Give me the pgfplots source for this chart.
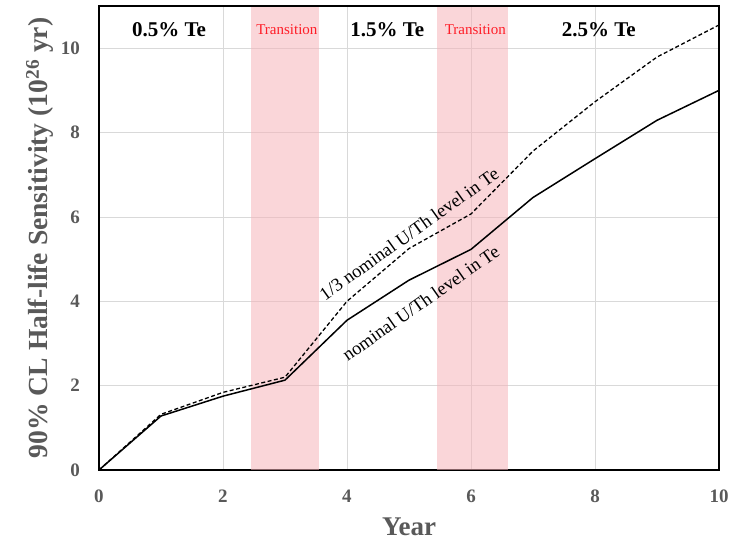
\documentclass[border=0pt]{standalone}
\usepackage{fontspec}
\setmainfont{Liberation Serif}
\usepackage{pgfplots}
\pgfplotsset{compat=1.18}
\definecolor{bandc}{RGB}{245,180,186}
\definecolor{tickgray}{RGB}{89,89,89}
\definecolor{gridgray}{RGB}{217,217,217}
\definecolor{transred}{RGB}{255,30,40}
\begin{document}
\begin{tikzpicture}[x=1pt,y=1pt]
\path (-99,-70) rectangle (649,470);
\begin{axis}[
 at={(0,0)}, anchor=south west,
 scale only axis, width=620pt, height=464pt,
 xmin=0, xmax=10, ymin=0, ymax=11,
 xtick={0,2,...,10}, ytick={0,2,...,10},
 grid=major, major grid style={gridgray, line width=0.7pt},
 tick style={draw=none},
 axis line style={black, line width=1.3pt},
 /pgf/number format/assume math mode=true,
 ticklabel style={font=\fontsize{19}{22}\selectfont\bfseries, text=tickgray},
 yticklabel style={anchor=east, inner sep=0pt, xshift=-19pt},
 xticklabel style={anchor=north, inner sep=0pt, yshift=-20pt},
 xlabel={Year},
 ylabel={90\% CL Half-life Sensitivity (10\textsuperscript{26} yr)},
 label style={font=\bfseries, text=tickgray, inner sep=0pt},
 xlabel style={font=\fontsize{27}{30}\selectfont\bfseries, at={(axis description cs:0.5,0)}, anchor=center, yshift=-57pt},
 ylabel style={font=\fontsize{27.6}{30}\selectfont\bfseries, at={(axis description cs:0,0.5)}, anchor=center, yshift=59pt},
 clip=false,
]
\addplot[draw=none, fill=bandc, fill opacity=0.55] coordinates {(2.45,0) (3.55,0) (3.55,11) (2.45,11)} -- cycle;
\addplot[draw=none, fill=bandc, fill opacity=0.55] coordinates {(5.45,0) (6.6,0) (6.6,11) (5.45,11)} -- cycle;
\addplot[black, line width=1.3pt, dash pattern=on 4pt off 2.5pt] coordinates {
(0,0) (1,1.32) (2,1.84) (3,2.2) (4,4.0) (5,5.25) (6,6.07) (7,7.56) (8,8.73) (9,9.79) (10,10.55)};
\addplot[black, line width=1.5pt] coordinates {
(0,0) (1,1.28) (2,1.75) (3,2.13) (4,3.55) (5,4.5) (6,5.23) (7,6.46) (8,7.38) (9,8.29) (10,9.0)};
\node[font=\fontsize{21}{24}\selectfont\bfseries] at (axis cs:1.13,10.43) {0.5\% Te};
\node[font=\fontsize{21}{24}\selectfont\bfseries] at (axis cs:4.65,10.43) {1.5\% Te};
\node[font=\fontsize{21}{24}\selectfont\bfseries] at (axis cs:8.06,10.43) {2.5\% Te};
\node[font=\fontsize{15}{18}\selectfont, text=transred] at (axis cs:3.03,10.43) {Transition};
\node[font=\fontsize{15}{18}\selectfont, text=transred] at (axis cs:6.07,10.43) {Transition};
\node[rotate=35.5, font=\fontsize{18.5}{20}\selectfont] at (axis cs:5.0,5.6) {1/3 nominal U/Th level in Te};
\node[rotate=35, font=\fontsize{18.5}{20}\selectfont] at (axis cs:5.19,3.96) {nominal U/Th level in Te};
\draw[black, line width=2.6pt] (axis cs:0,11) -- (axis cs:10,11);
\end{axis}
\end{tikzpicture}
\end{document}
